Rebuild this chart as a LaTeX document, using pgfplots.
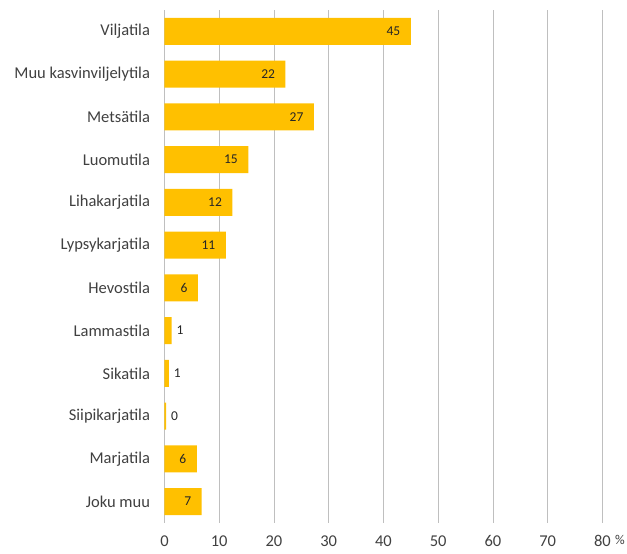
\documentclass[border=0pt]{standalone}
\usepackage{fontspec}
\setmainfont{Carlito}
\usepackage{pgfplots}
\pgfplotsset{compat=1.18}

\definecolor{barcol}{HTML}{FFC000}
\definecolor{labcol}{HTML}{404040}
\definecolor{gridcol}{HTML}{BFBFBF}

\begin{document}
\begin{tikzpicture}
\useasboundingbox (-164.5pt,-31pt) rectangle (462.5pt,523pt);
\begin{axis}[
    scale only axis,
    width=438pt, height=513pt,
    xbar, bar width=27pt, bar shift=0pt,
    xmin=0, xmax=80,
    ymin=-0.5, ymax=11.5,
    y dir=reverse,
    xtick={0,10,...,80},
    ytick={0,...,11},
    yticklabels={Viljatila, Muu kasvinviljelytila, Metsätila, Luomutila, Lihakarjatila,
        Lypsykarjatila, Hevostila, Lammastila, Sikatila, Siipikarjatila, Marjatila, Joku muu},
    xmajorgrids,
    grid style={gridcol, line width=0.9pt},
    axis x line*=bottom,
    axis y line*=left,
    x axis line style={draw=none},
    y axis line style={gridcol, line width=0.9pt},
    major tick length=0pt,
    tick label style={font=\fontsize{16.5}{18}\selectfont, text=labcol},
    yticklabel style={xshift=-11pt},
    xticklabel style={yshift=-9pt},
    /pgf/number format/assume math mode=true,
    point meta=explicit symbolic,
    nodes near coords={\pgfplotspointmeta},
    every node near coord/.append style={font=\fontsize{13.5}{15}\selectfont, text=black!85},
    clip=false,
]
% large values: label inside the bar end
\addplot[fill=barcol, draw=none,
    nodes near coords align={anchor=east},
    every node near coord/.append style={xshift=-7pt}]
coordinates {
    (45.0,0) [45]
    (22.1,1) [22]
    (27.3,2) [27]
    (15.3,3) [15]
    (12.4,4) [12]
    (11.2,5) [11]
    (6.1,6)  [6]
    (5.9,10) [6]
    (6.8,11) [7]
};
% small values: label outside the bar end
\addplot[fill=barcol, draw=none,
    nodes near coords align={anchor=west},
    every node near coord/.append style={xshift=1.5pt}]
coordinates {
    (1.3,7) [1]
    (0.8,8) [1]
    (0.3,9) [0]
};
\node[anchor=south west, font=\fontsize{13.5}{15}\selectfont, text=labcol]
    at (rel axis cs:1,0) [xshift=9pt, yshift=-25pt] {\%};
\end{axis}
\end{tikzpicture}
\end{document}
